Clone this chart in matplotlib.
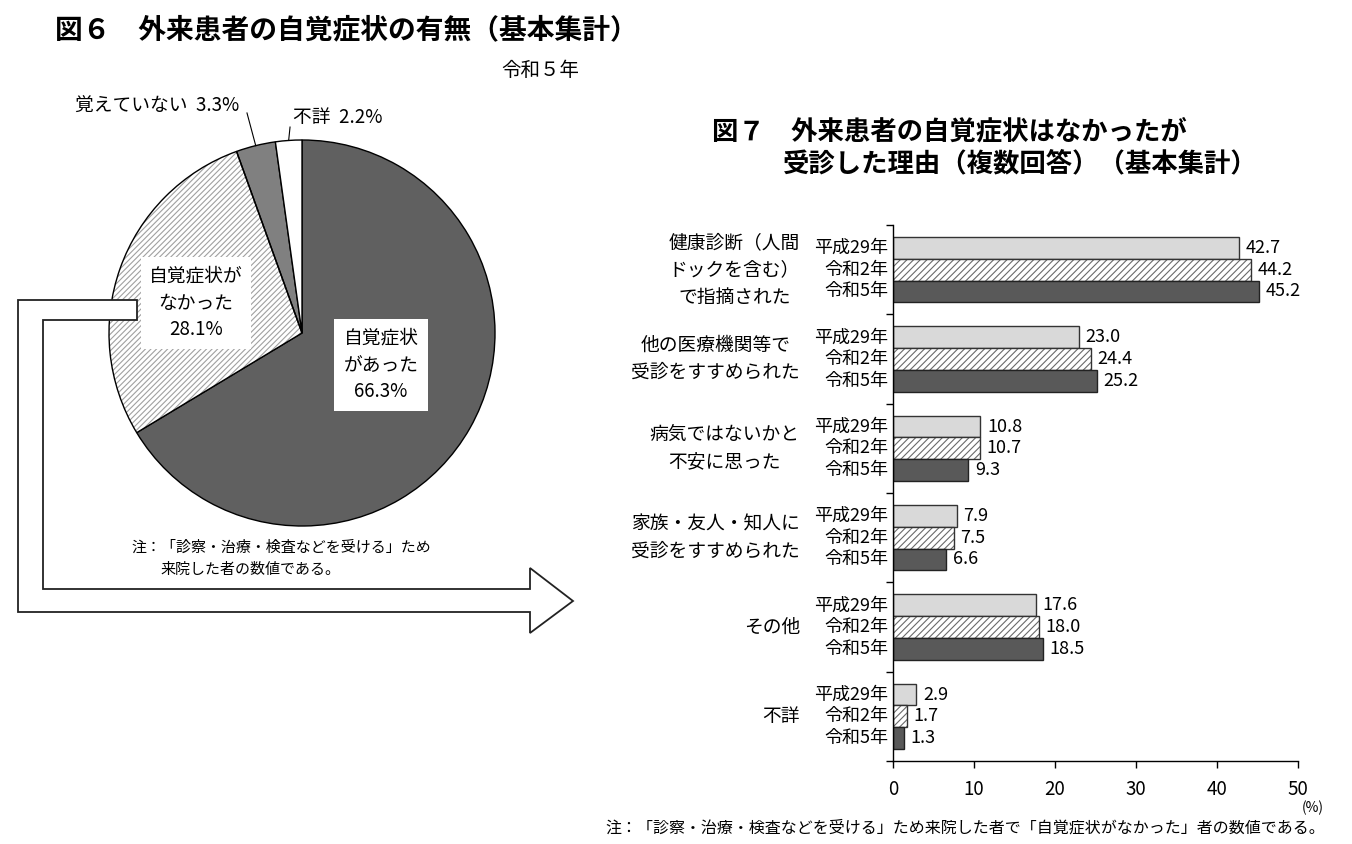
import numpy as np
import matplotlib
matplotlib.use("Agg")
import matplotlib.pyplot as plt
from matplotlib.patches import Polygon, Wedge

plt.rcParams['font.family'] = ['Noto Sans CJK JP', 'DejaVu Sans']
plt.rcParams['hatch.linewidth'] = 0.8

# ---------------- data ----------------
pie_labels = ['自覚症状があった', '自覚症状がなかった', '覚えていない', '不詳']
pie_values = [66.3, 28.1, 3.3, 2.2]

categories = ['健康診断（人間\nドックを含む）\nで指摘された',
              '他の医療機関等で\n受診をすすめられた',
              '病気ではないかと\n不安に思った',
              '家族・友人・知人に\n受診をすすめられた',
              'その他',
              '不詳']
years = ['平成29年', '令和2年', '令和5年']
h29 = [42.7, 23.0, 10.8, 7.9, 17.6, 2.9]
r2 = [44.2, 24.4, 10.7, 7.5, 18.0, 1.7]
r5 = [45.2, 25.2, 9.3, 6.6, 18.5, 1.3]

W, H = 1352, 844
fig = plt.figure(figsize=(W / 100, H / 100), dpi=100)

# ---------------- 図6 pie ----------------
cx, cy, rad = 302, 333, 193
half = rad * 1.02
axp = fig.add_axes([(cx - half) / W, 1 - (cy + half) / H, 2 * half / W, 2 * half / H])
wedges, _ = axp.pie(pie_values, colors=['#606060', 'white', '#808080', 'white'],
                    startangle=90, counterclock=False,
                    wedgeprops=dict(edgecolor='black', linewidth=1.0))
hw = wedges[1]
hw.set_hatch('//////')
hw.set_edgecolor('#a0a0a0')
hw.set_linewidth(0)
axp.add_patch(Wedge(hw.center, hw.r, hw.theta1, hw.theta2, fill=False,
                    edgecolor='black', linewidth=1.0))
axp.set_xlim(-1.02, 1.02)
axp.set_ylim(-1.02, 1.02)
axp.set_aspect('equal')
axp.axis('off')

# leader lines for the small slices
def mid_point(w, r=1.0):
    a = np.deg2rad((w.theta1 + w.theta2) / 2)
    return r * np.cos(a), r * np.sin(a)

axp.plot([-0.285, mid_point(wedges[2])[0]], [1.140, mid_point(wedges[2])[1]],
         color='black', lw=0.8, clip_on=False)
axp.plot([-0.062, mid_point(wedges[3])[0]], [1.067, mid_point(wedges[3])[1]],
         color='black', lw=0.8, clip_on=False)

# ---------------- overlay (arrow, texts) ----------------
ov = fig.add_axes([0, 0, 1, 1])
ov.set_xlim(0, W)
ov.set_ylim(H, 0)
ov.axis('off')
ov.set_zorder(3)

arrow = Polygon([(137, 300), (18, 300), (18, 612), (530, 612), (530, 633),
                 (573, 601), (530, 568), (530, 589), (43, 589), (43, 320),
                 (137, 320)], closed=True, facecolor='white', edgecolor='#222222',
                lw=1.3)
ov.add_patch(arrow)

ov.text(55, 30, '図６　外来患者の自覚症状の有無（基本集計）', fontsize=20,
        fontweight='bold', ha='left', va='center')
ov.text(540, 70, '令和５年', fontsize=14, ha='center', va='center')

ov.text(157, 106, f'{pie_labels[2]}  {pie_values[2]}%', fontsize=13.5,
        ha='center', va='center')
ov.text(293, 117, f'{pie_labels[3]}  {pie_values[3]}%', fontsize=13.5,
        ha='left', va='center')
ov.text(196, 303, f'自覚症状が\nなかった\n{pie_values[1]}%', fontsize=13.5,
        ha='center', va='center', linespacing=1.35,
        bbox=dict(boxstyle='square,pad=0.45', facecolor='white', edgecolor='none'))
ov.text(381, 365, f'自覚症状\nがあった\n{pie_values[0]}%', fontsize=13.5,
        ha='center', va='center', linespacing=1.35,
        bbox=dict(boxstyle='square,pad=0.5', facecolor='white', edgecolor='none'))

ov.text(131, 548, '注：「診察・治療・検査などを受ける」ため', fontsize=10.8,
        ha='left', va='center')
ov.text(160, 570, '来院した者の数値である。', fontsize=10.8, ha='left', va='center')

# ---------------- 図7 bars ----------------
ov.text(712, 132, '図７　外来患者の自覚症状はなかったが', fontsize=19,
        fontweight='bold', ha='left', va='center')
ov.text(783, 164, '受診した理由（複数回答）（基本集計）', fontsize=19,
        fontweight='bold', ha='left', va='center')

ax = fig.add_axes([893 / W, 1 - 761 / H, (1298 - 893) / W, (761 - 225) / H])
bh = 0.243
base = np.arange(len(categories)) + 0.5
y_h29 = base - bh
y_r2 = base
y_r5 = base + bh

ax.barh(y_h29, h29, height=bh, color='#d9d9d9', edgecolor='#333333', lw=1.0)
ax.barh(y_r2, r2, height=bh, color='white', edgecolor='#6a6a6a', lw=0, hatch='/////')
ax.barh(y_r2, r2, height=bh, fill=False, edgecolor='#333333', lw=1.0)
ax.barh(y_r5, r5, height=bh, color='#595959', edgecolor='#222222', lw=1.0)

for ys, vals in ((y_h29, h29), (y_r2, r2), (y_r5, r5)):
    for yv, v in zip(ys, vals):
        ax.text(v + 0.8, yv, f'{v:.1f}', va='center', ha='left', fontsize=13)

yt = ax.get_yaxis_transform()
for i, cat in enumerate(categories):
    ax.text(-0.23, base[i], cat, transform=yt, ha='right', va='center',
            multialignment='center', fontsize=13.5, linespacing=1.4)
    for ys, yr in zip((y_h29, y_r2, y_r5), years):
        ax.text(-0.012, ys[i], yr, transform=yt, ha='right', va='center',
                fontsize=13)

ax.set_xlim(0, 50)
ax.set_ylim(len(categories), 0)
ax.set_xticks(np.arange(0, 51, 10))
ax.set_yticks(np.arange(0, len(categories) + 1))
ax.set_yticklabels([])
ax.tick_params(axis='both', direction='out', length=5, width=1, colors='black')
ax.tick_params(axis='x', labelsize=13.5, pad=8)
for s in ('top', 'right'):
    ax.spines[s].set_visible(False)
ax.spines['left'].set_linewidth(1)
ax.spines['bottom'].set_linewidth(1)

ov.text(1313, 808, '(%)', fontsize=10, ha='center', va='center')
ov.text(1325, 828, '注：「診察・治療・検査などを受ける」ため来院した者で「自覚症状がなかった」者の数値である。',
        fontsize=11.5, ha='right', va='center')

fig.savefig('out.png', dpi=100)
